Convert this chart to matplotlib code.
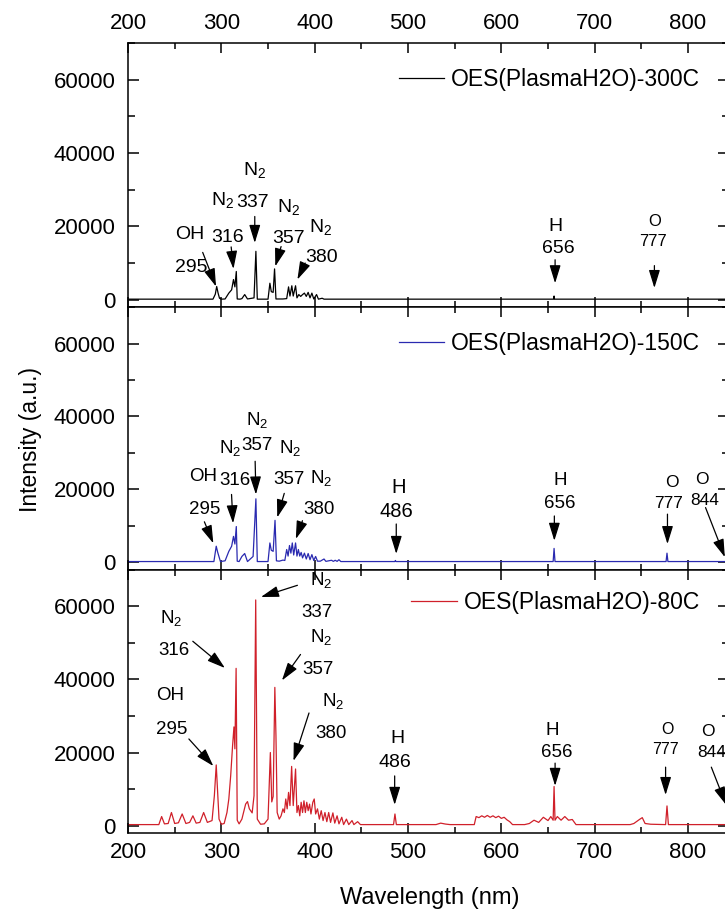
import numpy as np
import matplotlib
matplotlib.use('Agg')
import matplotlib.pyplot as plt
from matplotlib.ticker import MultipleLocator

plt.rcParams['font.family'] = ['Liberation Sans', 'DejaVu Sans']
plt.rcParams['mathtext.fontset'] = 'custom'
plt.rcParams['mathtext.rm'] = 'Liberation Sans'
plt.rcParams['mathtext.it'] = 'Liberation Sans:italic'

# spectra: (wavelength nm, intensity a.u.)
spec_300 = [(200, 150), (291, 150), (293.5, 1500), (295, 3600), (296.5, 1800), (298, 400), (300, 150),
            (304, 200), (308, 1800), (311, 2700), (313, 5500), (314.5, 3500), (316, 7700), (317, 200),
            (320, 150), (322, 300), (325, 1400), (328, 200), (335, 500), (337, 13200), (338.5, 150),
            (350, 150), (352, 4500), (353.5, 2200), (355.5, 2000), (357, 8400), (358.5, 200), (366, 200),
            (370, 300), (372, 3500), (373.5, 1000), (375.5, 3800), (377, 1000), (379.5, 3800), (381, 500),
            (383, 1400), (385, 900), (387, 1400), (389, 1800), (391, 900), (393, 2000), (395, 500),
            (397, 1800), (399, 200), (402, 1400), (404, 150), (408, 400), (410, 150),
            (656, 150), (656.5, 1000), (657, 150), (844, 150)]

spec_150 = [(200, 200), (292, 200), (294.5, 4400), (296, 2800), (297.5, 1500), (299, 200),
            (304, 400), (308, 3000), (311, 4400), (313, 7100), (314.5, 5000), (316, 9800), (317, 300), (319, 200),
            (322, 1600), (325, 2400), (328, 200), (334, 1600), (337, 17400), (338.5, 200),
            (350, 200), (352, 5300), (353.5, 3300), (355.5, 3000), (357.5, 11500), (359, 400),
            (362, 300), (366, 600), (368, 500), (370, 3500), (371.5, 1700), (373, 4600), (374.5, 2500),
            (376, 5300), (377.5, 2000), (379.5, 5300), (381, 1700), (382.5, 3500), (384, 1700), (385.5, 2700),
            (387, 1200), (389, 2500), (391, 900), (393, 2400), (395, 700), (397, 2100), (399, 500), (401, 1600),
            (403, 300), (406, 300), (410, 900), (412, 250), (418, 550), (420, 250), (422, 550), (424, 250),
            (426, 700), (428, 200), (486, 200), (486.5, 500), (487, 200), (655.5, 200), (656.5, 3800),
            (657.5, 200), (776.5, 200), (777.5, 2500), (778.5, 200), (844, 200)]

spec_80 = [(200, 300), (233, 300), (236, 2500), (239, 500), (243, 600), (246.5, 3600), (250, 600), (254, 800),
           (258, 3200), (262, 600), (266, 900), (269.5, 2700), (273, 700), (277, 900), (281, 3600), (285, 900),
           (290, 1400), (292.5, 8200), (294.5, 16600), (296, 9100), (297.5, 1800), (300, 400),
           (303, 600), (306, 3600), (308, 7300), (310, 13700), (312, 21800), (313.5, 27000), (314.5, 21000),
           (315.8, 43000), (317, 1500), (319, 500),
           (322, 1800), (326, 5900), (328, 6600), (330, 4600), (333, 3500), (335, 8200), (336.8, 61700),
           (338.5, 1800), (342, 400), (346, 500),
           (350, 1800), (352.5, 20000), (354, 6500), (355.5, 8000), (357.3, 37800), (358.5, 24600), (359.8, 3600),
           (362, 1800), (364, 2700), (366, 4600), (367.5, 3600), (369, 7300), (370.5, 4600), (372, 9100),
           (373.5, 5500), (375.3, 16200), (377, 5500), (379.5, 15500), (381, 3600), (382.5, 5500), (384, 2700),
           (385.5, 6400), (387, 3600), (388.5, 6800), (390, 3600), (391.5, 6400), (393, 4100), (394.5, 5900),
           (396, 3200), (398, 6400), (399.5, 7300), (401, 3200), (403, 4600), (405, 1800), (407, 4100),
           (409, 1400), (411, 3600), (413, 1100), (415, 3600), (417, 900), (419.5, 3500), (421.5, 700),
           (424, 2700), (426, 500), (429, 2300), (431, 300), (434, 1800), (436.5, 300), (440, 1400), (442, 300),
           (446, 1100), (449, 300), (455, 300),
           (484.5, 300), (486, 3200), (487.5, 300),
           (530, 300), (535, 700), (540, 450), (545, 300),
           (571, 300), (573, 2500), (576, 2200), (579, 2700), (582, 2300), (585, 2800), (588, 2300), (591, 2700),
           (594, 2200), (597, 2600), (600, 2000), (603, 2300), (606, 1600), (609, 1100), (612, 300),
           (625, 300), (630, 600), (635, 1500), (640, 900), (645, 2300), (650, 1400), (653, 2500), (655.5, 1500),
           (656.5, 10700), (657.5, 1500), (660, 2500), (664, 1500), (668, 2500), (672, 1500), (676, 1700),
           (680, 300), (738, 300), (742, 600), (748, 1700), (751, 2200), (754, 600), (760, 400), (776, 300),
           (777.5, 5400), (779, 300), (844, 300)]

names = ['OES(PlasmaH2O)-300C', 'OES(PlasmaH2O)-150C', 'OES(PlasmaH2O)-80C']
colors = ['black', '#2a2ab0', '#d0202a']
N2 = r'N$_2$'

# labels: (text, x, y, fontsize) and arrows: (tail, tip)
labels_300 = [('OH', 265.6, 17700, 14), ('295', 267.7, 8800, 14),
              (N2, 301, 27200, 14), ('316', 307, 17100, 14),
              (N2, 336, 35300, 14), ('337', 333, 26500, 14),
              (N2, 372, 25300, 14), ('357', 372.3, 16800, 14),
              (N2, 406.5, 19900, 14), ('380', 407.6, 11400, 14),
              ('H', 657.6, 20000, 14), ('656', 661, 13900, 14),
              ('O', 764, 21400, 12), ('777', 762.7, 15900, 12)]
arrows_300 = [((280, 12900), (294.3, 3600)), ((310.5, 14400), (313, 8400)),
              ((335.8, 22700), (335.8, 15500)), ((364, 14500), (357.8, 9100)),
              ((389.8, 10000), (381.5, 5500)), ((657.6, 10900), (657.6, 4500)),
              ((764, 9300), (764, 3200))]

labels_150 = [('OH', 280, 23500, 13.5), ('295', 281.8, 14400, 13.5),
              (N2, 309, 31300, 13.5), ('316', 314.2, 22300, 13.5),
              (N2, 338.8, 39000, 13.5), ('357', 337.9, 32000, 13.5),
              (N2, 374, 31400, 13.5), ('357', 372.3, 22700, 13.5),
              (N2, 406.5, 23100, 13.5), ('380', 404.7, 14500, 13.5),
              ('H', 490.3, 20500, 14.5), ('486', 487.8, 13800, 14.5),
              ('H', 663, 22300, 13.5), ('656', 663, 16200, 13.5),
              ('O', 782.6, 21800, 12.5), ('777', 779.3, 16200, 12.5),
              ('O', 814.6, 22700, 12.5), ('844', 818, 17000, 12.5)]
arrows_150 = [((281.8, 11100), (291.4, 5200)), ((310.9, 18600), (312.5, 10700)),
              ((336.2, 27700), (337, 18600)), ((367.4, 18900), (359.9, 12300)),
              ((386.9, 11400), (379.8, 6400)), ((487.4, 10500), (487.4, 2300)),
              ((656.8, 12700), (656.8, 5900)), ((778, 13200), (778, 5000)),
              ((818.8, 15000), (839.5, 1400))]

labels_80 = [(N2, 406.5, 67200, 13.5), ('337', 402.2, 58400, 13.5),
             (N2, 246.6, 56700, 13.5), ('316', 249, 47900, 13.5),
             (N2, 406.5, 51700, 13.5), ('357', 403.5, 42600, 13.5),
             ('OH', 244.9, 35500, 13.5), ('295', 246.5, 26200, 13.5),
             (N2, 419.8, 34000, 13.5), ('380', 418, 25300, 13.5),
             ('H', 488.6, 23900, 14), ('486', 486.1, 17300, 14),
             ('H', 654.7, 26000, 13.5), ('656', 658.9, 20000, 13.5),
             ('O', 778, 26400, 11.5), ('777', 776, 20900, 11.5),
             ('O', 820.8, 25800, 12.5), ('844', 825, 20000, 12.5)]
arrows_80 = [((381.5, 65700), (342.4, 62500)), ((269.4, 50400), (303.8, 43100)),
             ((384.8, 46800), (364.9, 39700)), ((265.2, 23700), (291.4, 16300)),
             ((393.9, 30800), (377.3, 17700)), ((485.7, 13600), (485.7, 5700)),
             ((657.6, 17100), (657.6, 10900)), ((776, 16000), (776, 8400)),
             ((825, 16000), (840.8, 5700))]

spectra = [spec_300, spec_150, spec_80]
all_labels = [labels_300, labels_150, labels_80]
all_arrows = [arrows_300, arrows_150, arrows_80]
legend_y = [0.861, 0.861, 0.874]

fig = plt.figure(figsize=(7.25, 9.16), dpi=100)
boxes = [[0.1766, 0.6648, 0.829, 0.2882],
         [0.1766, 0.3782, 0.829, 0.2866],
         [0.1766, 0.0906, 0.829, 0.2876]]

for i in range(3):
    ax = fig.add_axes(boxes[i])
    data = np.array(spectra[i])
    ax.plot(data[:, 0], data[:, 1], color=colors[i], lw=0.9, label=names[i])
    ax.set_xlim(200, 844)
    ax.set_ylim(-2000, 70000)
    ax.xaxis.set_major_locator(MultipleLocator(100))
    ax.xaxis.set_minor_locator(MultipleLocator(50))
    ax.yaxis.set_major_locator(MultipleLocator(20000))
    ax.yaxis.set_minor_locator(MultipleLocator(10000))
    ax.tick_params(which='both', direction='in', top=True, right=True, width=1.1,
                   labelsize=16, labelbottom=(i == 2), labeltop=(i == 0))
    ax.tick_params(axis='y', which='major', length=8, pad=9)
    ax.tick_params(axis='y', which='minor', length=5)
    ax.tick_params(axis='x', which='major', length=7, pad=6.5)
    ax.tick_params(axis='x', which='minor', length=4)
    for s in ax.spines.values():
        s.set_linewidth(1.1)
    ax.legend(loc='center right', bbox_to_anchor=(0.952, legend_y[i]), frameon=False,
              fontsize=16.5, handlelength=2.0, handletextpad=0.3, borderaxespad=0, borderpad=0)
    for txt, x, y, fs in all_labels[i]:
        ax.text(x, y, txt, ha='center', va='center', fontsize=fs)
    for tail, tip in all_arrows[i]:
        ax.annotate('', xy=tip, xytext=tail,
                    arrowprops=dict(arrowstyle='-|>,head_length=0.55,head_width=0.17', color='k',
                                    lw=0.9, shrinkA=0, shrinkB=0, mutation_scale=20))

fig.text(0.042, 0.52, 'Intensity (a.u.)', rotation=90, ha='center', va='center', fontsize=16.5)
fig.text(0.593, 0.0197, 'Wavelength (nm)', ha='center', va='center', fontsize=17)

fig.savefig('out.png', dpi=100)
